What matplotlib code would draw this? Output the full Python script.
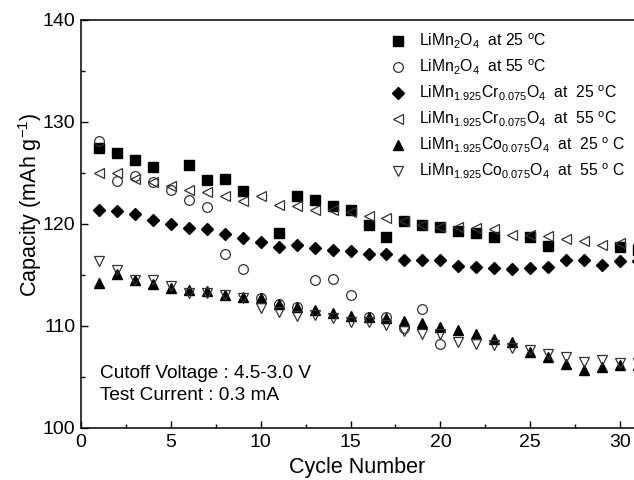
import numpy as np
import matplotlib
matplotlib.use("Agg")
import matplotlib.pyplot as plt
from matplotlib.ticker import MultipleLocator

plt.rcParams['font.family'] = ['Liberation Sans', 'DejaVu Sans']
plt.rcParams['mathtext.fontset'] = 'custom'
plt.rcParams['mathtext.rm'] = 'Liberation Sans'
plt.rcParams['mathtext.it'] = 'Liberation Sans:italic'

nan = np.nan
cycles = list(range(1, 32))

# LiMn2O4 at 25 C (filled squares)
mn_25 = [127.5, 127.0, 126.3, 125.6, nan, 125.8, 124.3, 124.4, 123.2, nan,
         119.1, 122.7, 122.4, 121.8, 121.4, 119.9, 118.7, 120.3, 119.9, 119.7,
         119.3, 119.1, 118.7, nan, 118.7, 117.8, nan, nan, nan, 117.7, 117.5]
# LiMn2O4 at 55 C (open circles), only 20 cycles
mn_55 = [128.1, 124.2, 124.7, 124.1, 123.3, 122.4, 121.7, 117.1, 115.6, 112.7,
         112.2, 111.9, 114.5, 114.6, 113.0, 110.9, 110.9, 109.8, 111.7, 108.2]
# LiMn1.925Cr0.075O4 at 25 C (filled diamonds)
cr_25 = [121.4, 121.3, 121.0, 120.4, 120.0, 119.6, 119.5, 119.0, 118.6, 118.2,
         117.7, 117.9, 117.6, 117.5, 117.4, 117.1, 117.1, 116.5, 116.5, 116.5,
         115.9, 115.8, 115.7, 115.6, 115.7, 115.8, 116.5, 116.5, 116.0, 116.4, 116.4]
# LiMn1.925Cr0.075O4 at 55 C (open left triangles)
cr_55 = [125.0, 125.0, 124.4, 124.1, 123.7, 123.3, 123.1, 122.7, 122.3, 122.7,
         121.9, 121.8, 121.4, 121.4, 121.2, 120.8, 120.6, 120.3, 119.9, 119.7,
         119.7, 119.6, 119.5, 118.9, 118.9, 118.8, 118.5, 118.3, 117.9, 118.1, 118.0]
# LiMn1.925Co0.075O4 at 25 C (filled up triangles)
co_25 = [114.2, 115.1, 114.5, 114.1, 113.7, 113.5, 113.4, 113.0, 112.8, 112.7,
         112.2, 111.9, 111.6, 111.3, 111.0, 110.9, 110.8, 110.5, 110.3, 109.9,
         109.6, 109.2, 108.7, 108.4, 107.5, 107.0, 106.3, 105.7, 106.0, 106.2, 106.2]
# LiMn1.925Co0.075O4 at 55 C (open down triangles)
co_55 = [116.4, 115.5, 114.5, 114.5, 113.9, 113.2, 113.2, 113.0, 112.7, 111.8,
         111.4, 111.0, 111.1, 110.8, 110.4, 110.4, 110.1, 109.5, 109.2, 109.2,
         108.4, 108.2, 108.1, 107.8, 107.6, 107.3, 107.0, 106.5, 106.7, 106.4, 106.4]

labels = [
    r'LiMn$_2$O$_4$  at 25 $^\mathrm{o}$C',
    r'LiMn$_2$O$_4$  at 55 $^\mathrm{o}$C',
    r'LiMn$_{1.925}$Cr$_{0.075}$O$_4$  at  25 $^\mathrm{o}$C',
    r'LiMn$_{1.925}$Cr$_{0.075}$O$_4$  at  55 $^\mathrm{o}$C',
    r'LiMn$_{1.925}$Co$_{0.075}$O$_4$  at  25 $^\mathrm{o}$ C',
    r'LiMn$_{1.925}$Co$_{0.075}$O$_4$  at  55 $^\mathrm{o}$ C',
]

fig = plt.figure(figsize=(6.34, 4.8), dpi=100)
# plot is cropped at the right edge in the original, so the axes end at the figure edge
ax = fig.add_axes([81 / 634, 52 / 480, 553 / 634, 408 / 480])

ms = 6.5
ax.plot(cycles, mn_25, 's', color='black', ms=ms, ls='none', label=labels[0])
ax.plot(cycles[:len(mn_55)], mn_55, 'o', mfc='none', mec='#333333', mew=0.9,
        ms=ms + 0.5, ls='none', label=labels[1])
ax.plot(cycles, cr_25, 'D', color='black', ms=ms, ls='none', label=labels[2])
ax.plot(cycles, cr_55, '<', mfc='none', mec='#333333', mew=0.9, ms=ms + 1,
        ls='none', label=labels[3])
ax.plot(cycles, co_25, '^', color='black', ms=ms + 1, ls='none', label=labels[4])
ax.plot(cycles, co_55, 'v', mfc='none', mec='#333333', mew=0.9, ms=ms + 1,
        ls='none', label=labels[5])

ax.set_xlim(0, 553 / 17.97)
ax.set_ylim(100, 140)
ax.spines['right'].set_visible(False)
ax.xaxis.set_major_locator(MultipleLocator(5))
ax.xaxis.set_minor_locator(MultipleLocator(2.5))
ax.yaxis.set_major_locator(MultipleLocator(10))
ax.yaxis.set_minor_locator(MultipleLocator(5))
ax.tick_params(which='both', direction='in', labelsize=14, width=1)
ax.tick_params(which='major', length=5, pad=4)
ax.tick_params(which='minor', length=3)
for s in ax.spines.values():
    s.set_linewidth(1.1)

ax.set_xlabel('Cycle Number', fontsize=15.5, labelpad=5)
ax.set_ylabel(r'Capacity (mAh g$^{-1}$)', fontsize=15.5)
ax.yaxis.set_label_coords(-37 / 553, 0.547)

ax.text(1.05, 105.3, 'Cutoff Voltage : 4.5-3.0 V', fontsize=13.7, va='center')
ax.text(1.05, 103.2, 'Test Current : 0.3 mA', fontsize=13.7, va='center')

ax.legend(loc='upper left', bbox_to_anchor=(390 / 634, 1 - 32 / 480),
          bbox_transform=fig.transFigure, frameon=False, fontsize=11.3,
          handlelength=1.0, handletextpad=0.85, labelspacing=0.42,
          borderpad=0, borderaxespad=0)

fig.savefig('out.png', dpi=100)
